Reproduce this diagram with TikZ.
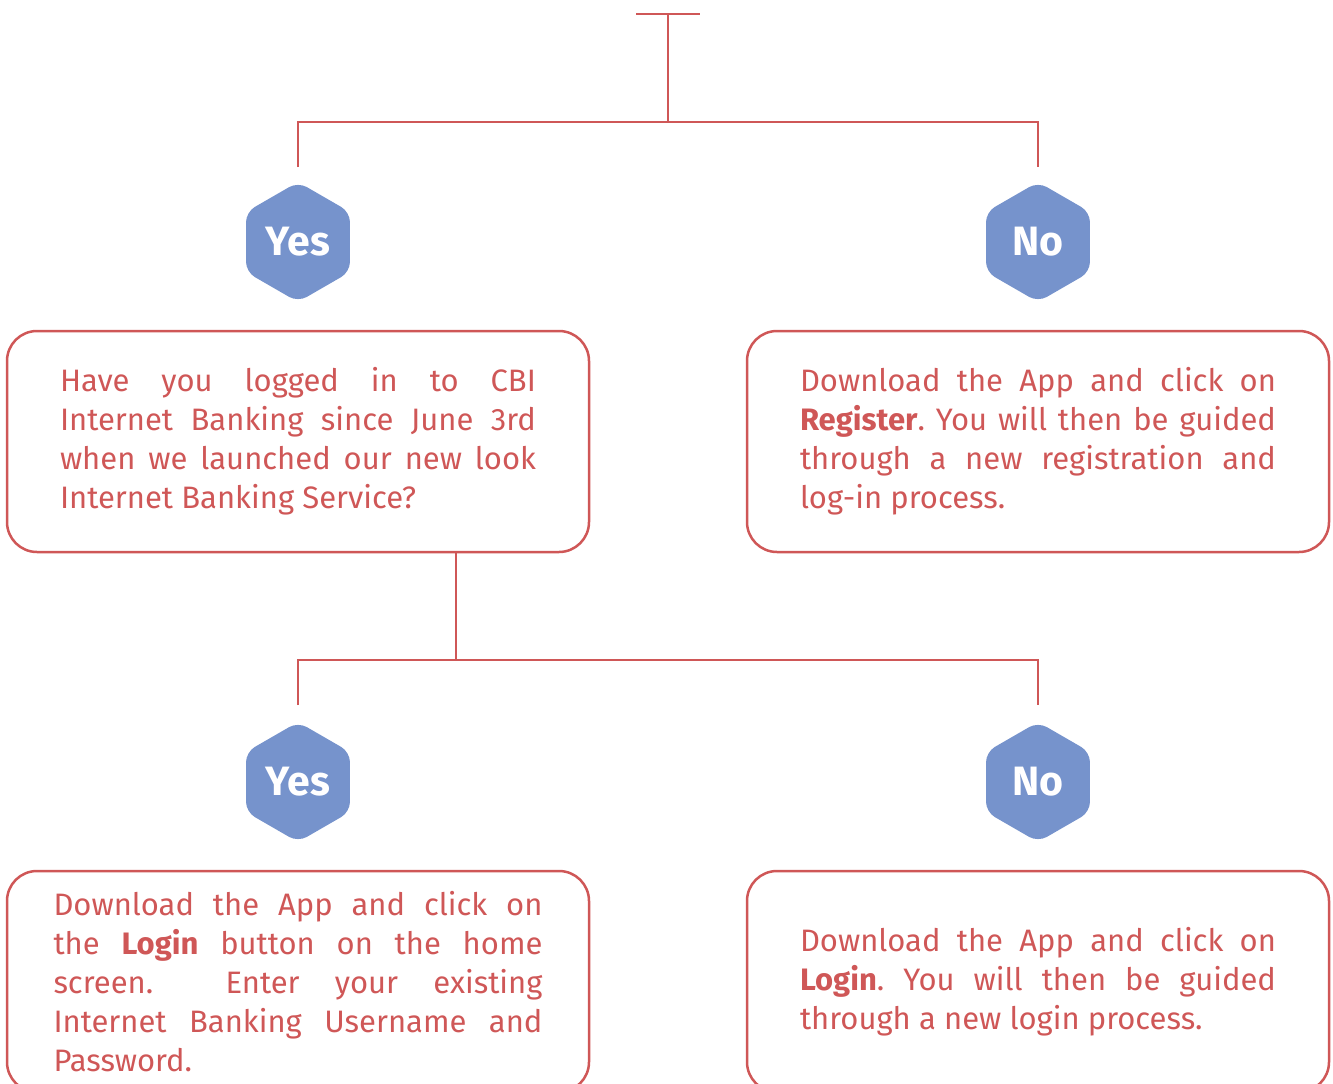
\documentclass[tikz,border=0pt]{standalone}
\usepackage{fontspec}
\setmainfont{Fira Sans}
\usetikzlibrary{shapes.geometric}
\definecolor{linered}{HTML}{CF5757}
\definecolor{hexblue}{HTML}{7693CC}
\tikzset{
  wire/.style={draw=linered, line width=2.5pt},
  answer/.style={regular polygon, regular polygon sides=6, shape border rotate=30,
    minimum size=120pt, inner sep=0pt, fill=hexblue, rounded corners=10pt,
    text=white, font=\bfseries\fontsize{41}{43}\selectfont},
  card/.style={draw=linered, line width=2.5pt, rounded corners=30pt,
    minimum width=582pt, minimum height=221pt, inner sep=0pt,
    text=linered, font=\frenchspacing\fontsize{31}{39}\selectfont, align=justify},
}
\begin{document}
\begin{tikzpicture}[x=1pt, y=-1pt]
\useasboundingbox (0,0) rectangle (1333,1084);

% first question branch
\coordinate (barL) at (636,14);
\coordinate (barR) at (700,14);
\coordinate (root) at (668,14);
\coordinate (fork1) at (668,122);
\coordinate (yes1top) at (298,167);
\coordinate (no1top) at (1038,167);

\node[answer] (yes1) at (298,242) {Yes};
\node[answer] (no1) at (1038,242) {No};

\node[card, text width=476pt] (q1) at (298,441.5)
  {Have you logged in to CBI\linebreak Internet Banking since June 3rd\linebreak when we launched our new look\linebreak Internet Banking Service?};
\node[card, text width=476pt] (reg) at (1038,441.5)
  {Download the App and click on\linebreak \textbf{Register}. You will then be guided\linebreak through a new registration and\linebreak log-in process.};

% second question branch
\coordinate (fork2) at (456,660);
\coordinate (yes2top) at (298,705);
\coordinate (no2top) at (1038,705);

\node[answer] (yes2) at (298,782) {Yes};
\node[answer] (no2) at (1038,782) {No};

\node[card, text width=489pt] (login1) at (298,981.5)
  {Download the App and click on\linebreak the \textbf{Login} button on the home\linebreak screen.\hspace{1.2em} Enter your existing\linebreak Internet Banking Username and\linebreak Password.};
\node[card, text width=476pt] (login2) at (1038,981.5)
  {Download the App and click on\linebreak \textbf{Login}. You will then be guided\linebreak through a new login process.};

% connectors
\draw[wire] (barL) -- (barR);
\draw[wire] (root) -- (fork1);
\draw[wire] (yes1top) |- (fork1) -| (no1top);
\draw[wire] (q1.south -| fork2) -- (fork2);
\draw[wire] (yes2top) |- (fork2) -| (no2top);
\end{tikzpicture}
\end{document}
